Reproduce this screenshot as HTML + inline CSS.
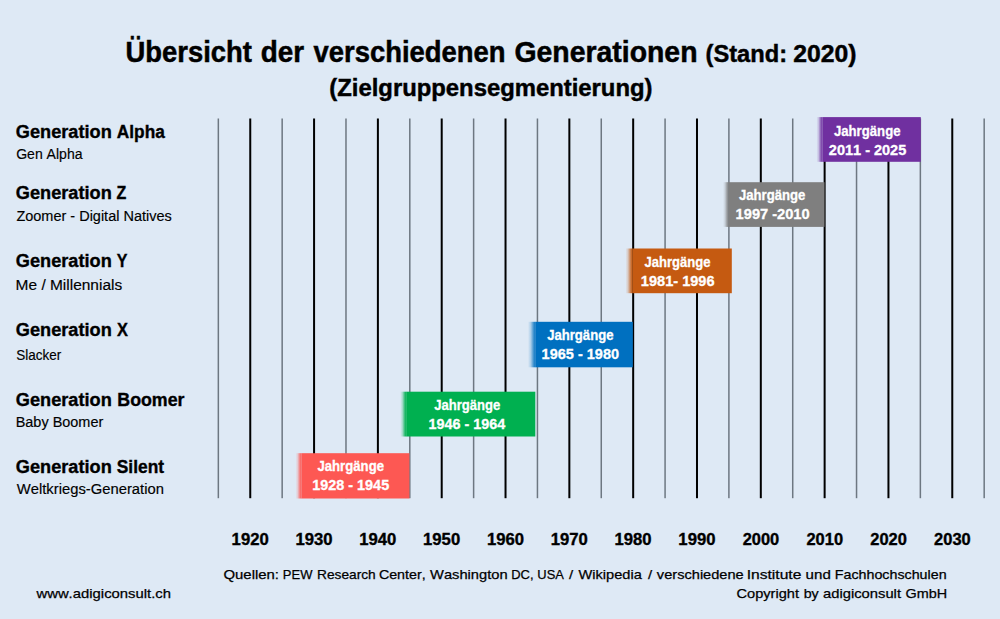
<!DOCTYPE html>
<html><head><meta charset="utf-8"><title>Generationen</title>
<style>
html,body{margin:0;padding:0;background:#DEE9F5;}
body{width:1000px;height:619px;overflow:hidden;}
svg{display:block;}
text{font-family:"Liberation Sans",Arial,sans-serif;font-kerning:none;font-feature-settings:"kern" 0;}
</style></head><body>
<svg width="1000" height="619" viewBox="0 0 1000 619">
<defs><linearGradient id="g0" x1="816.40" x2="822.40" y1="0" y2="0" gradientUnits="userSpaceOnUse"><stop offset="0" stop-color="#7030A0" stop-opacity="0"/><stop offset="0.35" stop-color="#7030A0" stop-opacity="0.22"/><stop offset="0.7" stop-color="#7030A0" stop-opacity="0.7"/><stop offset="1" stop-color="#7030A0"/></linearGradient>
<linearGradient id="g1" x1="723.00" x2="728.60" y1="0" y2="0" gradientUnits="userSpaceOnUse"><stop offset="0" stop-color="#7F7F7F" stop-opacity="0"/><stop offset="0.35" stop-color="#7F7F7F" stop-opacity="0.22"/><stop offset="0.7" stop-color="#7F7F7F" stop-opacity="0.7"/><stop offset="1" stop-color="#7F7F7F"/></linearGradient>
<linearGradient id="g2" x1="625.50" x2="632.30" y1="0" y2="0" gradientUnits="userSpaceOnUse"><stop offset="0" stop-color="#C55A11" stop-opacity="0"/><stop offset="0.35" stop-color="#C55A11" stop-opacity="0.22"/><stop offset="0.7" stop-color="#C55A11" stop-opacity="0.7"/><stop offset="1" stop-color="#C55A11"/></linearGradient>
<linearGradient id="g3" x1="528.00" x2="535.80" y1="0" y2="0" gradientUnits="userSpaceOnUse"><stop offset="0" stop-color="#0070C0" stop-opacity="0"/><stop offset="0.35" stop-color="#0070C0" stop-opacity="0.22"/><stop offset="0.7" stop-color="#0070C0" stop-opacity="0.7"/><stop offset="1" stop-color="#0070C0"/></linearGradient>
<linearGradient id="g4" x1="400.20" x2="406.20" y1="0" y2="0" gradientUnits="userSpaceOnUse"><stop offset="0" stop-color="#00B050" stop-opacity="0"/><stop offset="0.35" stop-color="#00B050" stop-opacity="0.22"/><stop offset="0.7" stop-color="#00B050" stop-opacity="0.7"/><stop offset="1" stop-color="#00B050"/></linearGradient>
<linearGradient id="g5" x1="295.60" x2="301.40" y1="0" y2="0" gradientUnits="userSpaceOnUse"><stop offset="0" stop-color="#FD5853" stop-opacity="0"/><stop offset="0.35" stop-color="#FD5853" stop-opacity="0.22"/><stop offset="0.7" stop-color="#FD5853" stop-opacity="0.7"/><stop offset="1" stop-color="#FD5853"/></linearGradient></defs>
<rect x="0" y="0" width="1000" height="619" fill="#DEE9F5"/>
<rect x="217.59" y="118.50" width="1.5" height="379.70" fill="#6d7781"/>
<rect x="249.25" y="118.50" width="2" height="379.70" fill="#000"/>
<rect x="281.41" y="118.50" width="1.5" height="379.70" fill="#6d7781"/>
<rect x="313.07" y="118.50" width="2" height="379.70" fill="#000"/>
<rect x="345.23" y="118.50" width="1.5" height="379.70" fill="#6d7781"/>
<rect x="376.89" y="118.50" width="2" height="379.70" fill="#000"/>
<rect x="409.05" y="118.50" width="1.5" height="379.70" fill="#6d7781"/>
<rect x="440.71" y="118.50" width="2" height="379.70" fill="#000"/>
<rect x="472.87" y="118.50" width="1.5" height="379.70" fill="#6d7781"/>
<rect x="504.53" y="118.50" width="2" height="379.70" fill="#000"/>
<rect x="536.69" y="118.50" width="1.5" height="379.70" fill="#6d7781"/>
<rect x="568.35" y="118.50" width="2" height="379.70" fill="#000"/>
<rect x="600.51" y="118.50" width="1.5" height="379.70" fill="#6d7781"/>
<rect x="632.17" y="118.50" width="2" height="379.70" fill="#000"/>
<rect x="664.33" y="118.50" width="1.5" height="379.70" fill="#6d7781"/>
<rect x="695.99" y="118.50" width="2" height="379.70" fill="#000"/>
<rect x="728.15" y="118.50" width="1.5" height="379.70" fill="#6d7781"/>
<rect x="759.81" y="118.50" width="2" height="379.70" fill="#000"/>
<rect x="791.97" y="118.50" width="1.5" height="379.70" fill="#6d7781"/>
<rect x="823.63" y="118.50" width="2" height="379.70" fill="#000"/>
<rect x="855.79" y="118.50" width="1.5" height="379.70" fill="#6d7781"/>
<rect x="887.45" y="118.50" width="2" height="379.70" fill="#000"/>
<rect x="919.61" y="118.50" width="1.5" height="379.70" fill="#6d7781"/>
<rect x="951.27" y="118.50" width="2" height="379.70" fill="#000"/>
<rect x="983.43" y="118.50" width="1.5" height="379.70" fill="#6d7781"/>
<rect x="816.40" y="117.10" width="6.00" height="44.70" fill="url(#g0)"/>
<rect x="822.40" y="117.10" width="98.40" height="44.70" fill="#7030A0"/>
<text x="833.95" y="135.75" font-size="13.95" font-weight="700" fill="#fff" textLength="66.55" lengthAdjust="spacingAndGlyphs" stroke="#fff" stroke-width="0.3">Jahrgänge</text>
<text x="828.85" y="154.85" font-size="14.10" font-weight="700" fill="#fff" textLength="77.41" lengthAdjust="spacingAndGlyphs" stroke="#fff" stroke-width="0.3">2011 - 2025</text>
<rect x="723.00" y="182.20" width="5.60" height="44.70" fill="url(#g1)"/>
<rect x="728.60" y="182.20" width="95.90" height="44.70" fill="#7F7F7F"/>
<text x="738.95" y="200.25" font-size="13.95" font-weight="700" fill="#fff" textLength="66.35" lengthAdjust="spacingAndGlyphs" stroke="#fff" stroke-width="0.3">Jahrgänge</text>
<text x="735.63" y="219.05" font-size="14.10" font-weight="700" fill="#fff" textLength="74.02" lengthAdjust="spacingAndGlyphs" stroke="#fff" stroke-width="0.3">1997 -2010</text>
<rect x="625.50" y="248.50" width="6.80" height="44.70" fill="url(#g2)"/>
<rect x="632.30" y="248.50" width="99.50" height="44.70" fill="#C55A11"/>
<text x="644.55" y="266.85" font-size="13.95" font-weight="700" fill="#fff" textLength="65.94" lengthAdjust="spacingAndGlyphs" stroke="#fff" stroke-width="0.3">Jahrgänge</text>
<text x="640.83" y="286.05" font-size="14.10" font-weight="700" fill="#fff" textLength="73.74" lengthAdjust="spacingAndGlyphs" stroke="#fff" stroke-width="0.3">1981- 1996</text>
<rect x="528.00" y="321.80" width="7.80" height="45.50" fill="url(#g3)"/>
<rect x="535.80" y="321.80" width="97.00" height="45.50" fill="#0070C0"/>
<text x="547.15" y="339.65" font-size="13.95" font-weight="700" fill="#fff" textLength="66.35" lengthAdjust="spacingAndGlyphs" stroke="#fff" stroke-width="0.3">Jahrgänge</text>
<text x="541.64" y="359.45" font-size="14.10" font-weight="700" fill="#fff" textLength="77.41" lengthAdjust="spacingAndGlyphs" stroke="#fff" stroke-width="0.3">1965 - 1980</text>
<rect x="400.20" y="391.70" width="6.00" height="44.80" fill="url(#g4)"/>
<rect x="406.20" y="391.70" width="129.10" height="44.80" fill="#00B050"/>
<text x="434.25" y="409.55" font-size="13.95" font-weight="700" fill="#fff" textLength="66.04" lengthAdjust="spacingAndGlyphs" stroke="#fff" stroke-width="0.3">Jahrgänge</text>
<text x="428.44" y="429.10" font-size="14.10" font-weight="700" fill="#fff" textLength="76.73" lengthAdjust="spacingAndGlyphs" stroke="#fff" stroke-width="0.3">1946 - 1964</text>
<rect x="295.60" y="453.20" width="5.80" height="45.30" fill="url(#g5)"/>
<rect x="301.40" y="453.20" width="108.00" height="45.30" fill="#FD5853"/>
<text x="317.45" y="471.15" font-size="13.95" font-weight="700" fill="#fff" textLength="66.55" lengthAdjust="spacingAndGlyphs" stroke="#fff" stroke-width="0.3">Jahrgänge</text>
<text x="312.24" y="490.35" font-size="14.10" font-weight="700" fill="#fff" textLength="76.91" lengthAdjust="spacingAndGlyphs" stroke="#fff" stroke-width="0.3">1928 - 1945</text>
<text x="125.50" y="61.95" font-size="28.92" font-weight="700" fill="#000" textLength="126.48" lengthAdjust="spacingAndGlyphs" stroke="#000" stroke-width="0.5">Übersicht</text>
<text x="260.81" y="61.95" font-size="28.92" font-weight="700" fill="#000" textLength="43.36" lengthAdjust="spacingAndGlyphs" stroke="#000" stroke-width="0.5">der</text>
<text x="313.44" y="61.95" font-size="28.92" font-weight="700" fill="#000" textLength="192.21" lengthAdjust="spacingAndGlyphs" stroke="#000" stroke-width="0.5">verschiedenen</text>
<text x="514.38" y="61.95" font-size="28.92" font-weight="700" fill="#000" textLength="183.13" lengthAdjust="spacingAndGlyphs" stroke="#000" stroke-width="0.5">Generationen</text>
<text x="705.55" y="61.67" font-size="23.76" font-weight="700" fill="#000" textLength="81.51" lengthAdjust="spacingAndGlyphs" stroke="#000" stroke-width="0.45">(Stand:</text>
<text x="793.17" y="61.67" font-size="23.76" font-weight="700" fill="#000" textLength="63.24" lengthAdjust="spacingAndGlyphs" stroke="#000" stroke-width="0.45">2020)</text>
<text x="329.34" y="95.68" font-size="23.62" font-weight="700" fill="#000" textLength="323.12" lengthAdjust="spacingAndGlyphs" stroke="#000" stroke-width="0.45">(Zielgruppensegmentierung)</text>
<text x="15.83" y="137.72" font-size="17.51" font-weight="700" fill="#000" textLength="95.92" lengthAdjust="spacingAndGlyphs" stroke="#000" stroke-width="0.35">Generation</text>
<text x="116.84" y="137.72" font-size="17.51" font-weight="700" fill="#000" textLength="47.97" lengthAdjust="spacingAndGlyphs" stroke="#000" stroke-width="0.35">Alpha</text>
<text x="16.17" y="158.53" font-size="14.03" font-weight="400" fill="#000" textLength="66.36" lengthAdjust="spacingAndGlyphs" stroke="#000" stroke-width="0.15">Gen Alpha</text>
<text x="15.83" y="199.32" font-size="17.51" font-weight="700" fill="#000" textLength="95.92" lengthAdjust="spacingAndGlyphs" stroke="#000" stroke-width="0.35">Generation</text>
<text x="116.60" y="199.32" font-size="17.51" font-weight="700" fill="#000" textLength="9.79" lengthAdjust="spacingAndGlyphs" stroke="#000" stroke-width="0.35">Z</text>
<text x="16.42" y="220.83" font-size="14.03" font-weight="400" fill="#000" textLength="155.33" lengthAdjust="spacingAndGlyphs" stroke="#000" stroke-width="0.15">Zoomer - Digital Natives</text>
<text x="15.83" y="266.52" font-size="17.51" font-weight="700" fill="#000" textLength="95.92" lengthAdjust="spacingAndGlyphs" stroke="#000" stroke-width="0.35">Generation</text>
<text x="116.70" y="266.52" font-size="17.51" font-weight="700" fill="#000" textLength="10.68" lengthAdjust="spacingAndGlyphs" stroke="#000" stroke-width="0.35">Y</text>
<text x="15.61" y="289.73" font-size="14.03" font-weight="400" fill="#000" textLength="106.58" lengthAdjust="spacingAndGlyphs" stroke="#000" stroke-width="0.15">Me / Millennials</text>
<text x="15.83" y="335.93" font-size="17.51" font-weight="700" fill="#000" textLength="95.92" lengthAdjust="spacingAndGlyphs" stroke="#000" stroke-width="0.35">Generation</text>
<text x="116.93" y="335.93" font-size="17.51" font-weight="700" fill="#000" textLength="10.94" lengthAdjust="spacingAndGlyphs" stroke="#000" stroke-width="0.35">X</text>
<text x="16.26" y="360.12" font-size="14.03" font-weight="400" fill="#000" textLength="44.99" lengthAdjust="spacingAndGlyphs" stroke="#000" stroke-width="0.15">Slacker</text>
<text x="15.83" y="405.72" font-size="17.51" font-weight="700" fill="#000" textLength="95.92" lengthAdjust="spacingAndGlyphs" stroke="#000" stroke-width="0.35">Generation</text>
<text x="117.29" y="405.72" font-size="17.51" font-weight="700" fill="#000" textLength="67.21" lengthAdjust="spacingAndGlyphs" stroke="#000" stroke-width="0.35">Boomer</text>
<text x="15.69" y="427.12" font-size="14.03" font-weight="400" fill="#000" textLength="87.58" lengthAdjust="spacingAndGlyphs" stroke="#000" stroke-width="0.15">Baby Boomer</text>
<text x="15.83" y="472.82" font-size="17.51" font-weight="700" fill="#000" textLength="95.92" lengthAdjust="spacingAndGlyphs" stroke="#000" stroke-width="0.35">Generation</text>
<text x="116.77" y="472.82" font-size="17.51" font-weight="700" fill="#000" textLength="47.26" lengthAdjust="spacingAndGlyphs" stroke="#000" stroke-width="0.35">Silent</text>
<text x="16.81" y="493.62" font-size="14.03" font-weight="400" fill="#000" textLength="147.08" lengthAdjust="spacingAndGlyphs" stroke="#000" stroke-width="0.15">Weltkriegs-Generation</text>
<text x="231.62" y="544.53" font-size="15.77" font-weight="700" fill="#000" textLength="37.08" lengthAdjust="spacingAndGlyphs" stroke="#000" stroke-width="0.35">1920</text>
<text x="295.44" y="544.53" font-size="15.77" font-weight="700" fill="#000" textLength="37.08" lengthAdjust="spacingAndGlyphs" stroke="#000" stroke-width="0.35">1930</text>
<text x="359.26" y="544.53" font-size="15.77" font-weight="700" fill="#000" textLength="37.08" lengthAdjust="spacingAndGlyphs" stroke="#000" stroke-width="0.35">1940</text>
<text x="423.08" y="544.53" font-size="15.77" font-weight="700" fill="#000" textLength="37.08" lengthAdjust="spacingAndGlyphs" stroke="#000" stroke-width="0.35">1950</text>
<text x="486.90" y="544.53" font-size="15.77" font-weight="700" fill="#000" textLength="37.08" lengthAdjust="spacingAndGlyphs" stroke="#000" stroke-width="0.35">1960</text>
<text x="550.72" y="544.53" font-size="15.77" font-weight="700" fill="#000" textLength="37.08" lengthAdjust="spacingAndGlyphs" stroke="#000" stroke-width="0.35">1970</text>
<text x="614.54" y="544.53" font-size="15.77" font-weight="700" fill="#000" textLength="37.08" lengthAdjust="spacingAndGlyphs" stroke="#000" stroke-width="0.35">1980</text>
<text x="678.37" y="544.53" font-size="15.77" font-weight="700" fill="#000" textLength="37.08" lengthAdjust="spacingAndGlyphs" stroke="#000" stroke-width="0.35">1990</text>
<text x="742.66" y="544.53" font-size="15.77" font-weight="700" fill="#000" textLength="36.60" lengthAdjust="spacingAndGlyphs" stroke="#000" stroke-width="0.35">2000</text>
<text x="806.48" y="544.53" font-size="15.77" font-weight="700" fill="#000" textLength="36.60" lengthAdjust="spacingAndGlyphs" stroke="#000" stroke-width="0.35">2010</text>
<text x="870.30" y="544.53" font-size="15.77" font-weight="700" fill="#000" textLength="36.60" lengthAdjust="spacingAndGlyphs" stroke="#000" stroke-width="0.35">2020</text>
<text x="934.12" y="544.53" font-size="15.77" font-weight="700" fill="#000" textLength="36.60" lengthAdjust="spacingAndGlyphs" stroke="#000" stroke-width="0.35">2030</text>
<text x="223.42" y="578.67" font-size="13.30" font-weight="400" fill="#000" textLength="55.62" lengthAdjust="spacingAndGlyphs" stroke="#000" stroke-width="0.25">Quellen:</text>
<text x="282.86" y="578.67" font-size="13.30" font-weight="400" fill="#000" textLength="29.56" lengthAdjust="spacingAndGlyphs" stroke="#000" stroke-width="0.25">PEW</text>
<text x="317.00" y="578.67" font-size="13.30" font-weight="400" fill="#000" textLength="58.77" lengthAdjust="spacingAndGlyphs" stroke="#000" stroke-width="0.25">Research</text>
<text x="378.90" y="578.67" font-size="13.30" font-weight="400" fill="#000" textLength="46.75" lengthAdjust="spacingAndGlyphs" stroke="#000" stroke-width="0.25">Center,</text>
<text x="430.06" y="578.67" font-size="13.30" font-weight="400" fill="#000" textLength="77.57" lengthAdjust="spacingAndGlyphs" stroke="#000" stroke-width="0.25">Washington</text>
<text x="511.26" y="578.67" font-size="13.30" font-weight="400" fill="#000" textLength="22.27" lengthAdjust="spacingAndGlyphs" stroke="#000" stroke-width="0.25">DC,</text>
<text x="537.33" y="578.67" font-size="13.30" font-weight="400" fill="#000" textLength="26.57" lengthAdjust="spacingAndGlyphs" stroke="#000" stroke-width="0.25">USA</text>
<text x="568.92" y="578.67" font-size="13.30" font-weight="400" fill="#000" textLength="4.15" lengthAdjust="spacingAndGlyphs" stroke="#000" stroke-width="0.25">/</text>
<text x="578.56" y="578.67" font-size="13.30" font-weight="400" fill="#000" textLength="63.31" lengthAdjust="spacingAndGlyphs" stroke="#000" stroke-width="0.25">Wikipedia</text>
<text x="648.02" y="578.67" font-size="13.30" font-weight="400" fill="#000" textLength="4.15" lengthAdjust="spacingAndGlyphs" stroke="#000" stroke-width="0.25">/</text>
<text x="656.88" y="578.67" font-size="13.30" font-weight="400" fill="#000" textLength="86.85" lengthAdjust="spacingAndGlyphs" stroke="#000" stroke-width="0.25">verschiedene</text>
<text x="746.68" y="578.67" font-size="13.30" font-weight="400" fill="#000" textLength="54.68" lengthAdjust="spacingAndGlyphs" stroke="#000" stroke-width="0.25">Institute</text>
<text x="805.64" y="578.67" font-size="13.30" font-weight="400" fill="#000" textLength="25.20" lengthAdjust="spacingAndGlyphs" stroke="#000" stroke-width="0.25">und</text>
<text x="834.75" y="578.67" font-size="13.30" font-weight="400" fill="#000" textLength="111.85" lengthAdjust="spacingAndGlyphs" stroke="#000" stroke-width="0.25">Fachhochschulen</text>
<text x="736.58" y="597.67" font-size="13.30" font-weight="400" fill="#000" textLength="62.40" lengthAdjust="spacingAndGlyphs" stroke="#000" stroke-width="0.25">Copyright</text>
<text x="803.71" y="597.67" font-size="13.30" font-weight="400" fill="#000" textLength="14.99" lengthAdjust="spacingAndGlyphs" stroke="#000" stroke-width="0.25">by</text>
<text x="823.00" y="597.67" font-size="13.30" font-weight="400" fill="#000" textLength="77.99" lengthAdjust="spacingAndGlyphs" stroke="#000" stroke-width="0.25">adigiconsult</text>
<text x="905.60" y="597.67" font-size="13.30" font-weight="400" fill="#000" textLength="41.65" lengthAdjust="spacingAndGlyphs" stroke="#000" stroke-width="0.25">GmbH</text>
<text x="36.45" y="597.58" font-size="13.59" font-weight="400" fill="#000" textLength="134.59" lengthAdjust="spacingAndGlyphs" stroke="#000" stroke-width="0.25">www.adigiconsult.ch</text>
</svg>
</body></html>
